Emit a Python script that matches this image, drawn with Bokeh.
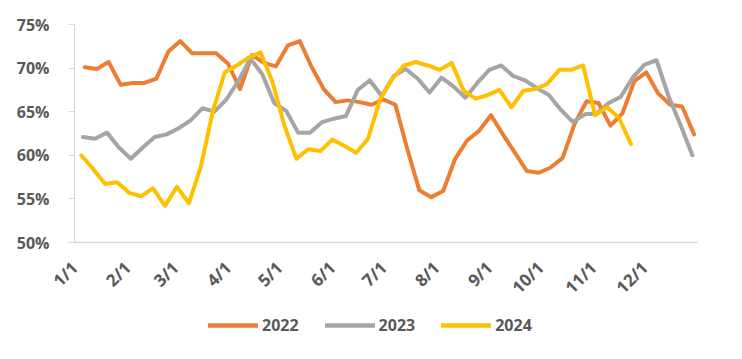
import pandas as pd
from bokeh.plotting import figure
from bokeh.layouts import column
from bokeh.models import (Range1d, FixedTicker, PrintfTickFormatter, Legend, LegendItem)
from bokeh.embed import file_html
from bokeh.resources import INLINE
from math import pi

# ---- data (weekly rates, %) ----
series_names = ["2022", "2023", "2024"]
start_dates = ["2022-01-07", "2023-01-06", "2024-01-05"]

v2022 = [70.1, 69.9, 70.7, 68.1, 68.3, 68.3, 68.8, 71.9, 73.1, 71.7, 71.7, 71.7, 70.5,
         67.6, 71.5, 70.6, 70.2, 72.6, 73.1, 70.1, 67.6, 66.1, 66.3, 66.1, 65.8, 66.4,
         65.8, 60.7, 56.0, 55.2, 55.9, 59.6, 61.7, 62.8, 64.6, 62.4, 60.3, 58.2, 58.0,
         58.6, 59.7, 63.6, 66.2, 66.0, 63.4, 64.8, 68.5, 69.5, 67.1, 65.8, 65.6, 62.4]
v2023 = [62.1, 61.9, 62.6, 60.9, 59.6, 60.9, 62.1, 62.4, 63.1, 64.0, 65.4, 65.0, 66.4,
         68.5, 71.1, 69.3, 66.0, 65.1, 62.6, 62.6, 63.8, 64.2, 64.5, 67.5, 68.6, 66.8,
         69.1, 69.9, 68.8, 67.2, 68.9, 67.9, 66.6, 68.3, 69.8, 70.3, 69.1, 68.6, 67.7,
         66.9, 65.2, 63.8, 64.7, 64.8, 66.0, 66.7, 68.9, 70.4, 70.9, 66.8, 63.5, 60.0]
v2024 = [60.0, 58.4, 56.7, 56.9, 55.7, 55.3, 56.2, 54.2, 56.4, 54.5, 58.7, 65.0, 69.5,
         70.3, 71.2, 71.8, 68.4, 63.4, 59.6, 60.7, 60.5, 61.8, 61.1, 60.3, 61.9, 66.4,
         68.7, 70.3, 70.7, 70.3, 69.8, 70.6, 67.4, 66.5, 66.9, 67.5, 65.5, 67.4, 67.6,
         68.2, 69.8, 69.8, 70.3, 64.6, 65.5, 64.3, 61.3]
series_values = [v2022, v2023, v2024]
colors = ["#ED7D31", "#A5A5A5", "#FFC000"]

month_labels = ["1/1", "2/1", "3/1", "4/1", "5/1", "6/1", "7/1", "8/1", "9/1", "10/1", "11/1", "12/1"]
month_days = [0, 31, 59, 90, 120, 151, 181, 212, 243, 273, 304, 334]
y_ticks = [50, 55, 60, 65, 70, 75]

FONT = "Open Sans"
TXT = "#595959"
AX = "#D9D9D9"

p = figure(width=740, height=309, x_range=Range1d(0, 365), y_range=Range1d(50, 75),
           output_backend="svg", toolbar_location=None,
           min_border_left=74, min_border_right=43, min_border_top=24, min_border_bottom=67)
p.outline_line_color = None
p.xgrid.visible = False
p.ygrid.visible = False

for name, start, vals, col in zip(series_names, start_dates, series_values, colors):
    d0 = pd.Timestamp(start)
    dates = pd.date_range(d0, periods=len(vals), freq="7D")
    xs = list((dates - pd.Timestamp(d0.year, 1, 1)).days)
    p.line(xs, vals, line_color=col, line_width=4, line_join="round", line_cap="round")

# axes
p.yaxis.ticker = FixedTicker(ticks=y_ticks)
p.yaxis.formatter = PrintfTickFormatter(format="%d%%")
p.yaxis.axis_line_color = AX
p.yaxis.major_tick_line_color = AX
p.yaxis.major_tick_out = 6
p.yaxis.major_tick_in = 0
p.yaxis.minor_tick_line_color = None
p.yaxis.major_label_standoff = 19
p.yaxis.major_label_text_font = FONT
p.yaxis.major_label_text_font_style = "bold"
p.yaxis.major_label_text_font_size = "16px"
p.yaxis.major_label_text_color = TXT

p.xaxis.ticker = FixedTicker(ticks=month_days)
p.xaxis.major_label_overrides = {d: l for d, l in zip(month_days, month_labels)}
p.xaxis.major_label_orientation = pi / 4
p.xaxis.axis_line_color = AX
p.xaxis.axis_line_width = 1.5
p.xaxis.major_tick_line_color = None
p.xaxis.minor_tick_line_color = None
p.xaxis.major_label_standoff = 16
p.xaxis.major_label_text_font = FONT
p.xaxis.major_label_text_font_style = "bold"
p.xaxis.major_label_text_font_size = "17px"
p.xaxis.major_label_text_color = TXT

# legend strip (separate figure below the chart)
lg = figure(width=740, height=50, x_range=Range1d(0, 1), y_range=Range1d(0, 1),
            output_backend="svg", toolbar_location=None,
            min_border_left=0, min_border_right=0, min_border_top=0, min_border_bottom=0)
lg.axis.visible = False
lg.xgrid.visible = False
lg.ygrid.visible = False
lg.outline_line_color = None
items = []
for name, col in zip(series_names, colors):
    r = lg.line([5, 6], [5, 6], line_color=col, line_width=4.5, line_cap="round")
    items.append(LegendItem(label=name, renderers=[r]))
legend = Legend(items=items, orientation="horizontal", location=(134, 23))
legend.glyph_width = 50
legend.glyph_height = 18
legend.label_standoff = 4
legend.spacing = 26
legend.padding = 0
legend.margin = 0
legend.border_line_color = None
legend.background_fill_alpha = 0
legend.label_text_font = FONT
legend.label_text_font_style = "bold"
legend.label_text_font_size = "16px"
legend.label_text_color = TXT
lg.add_layout(legend)

layout = column(p, lg, spacing=0)
open("out.html", "w").write(file_html(layout, INLINE))
